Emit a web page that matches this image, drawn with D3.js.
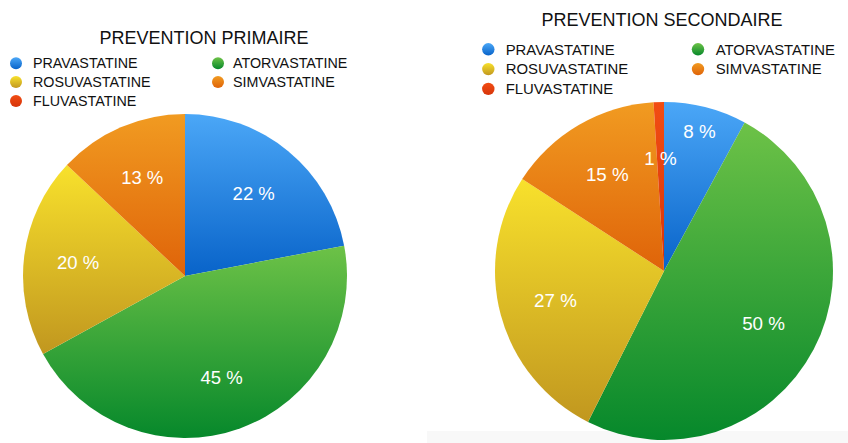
<!DOCTYPE html>
<html>
<head>
<meta charset="utf-8">
<script src="https://cdn.jsdelivr.net/npm/d3@7"></script>
<style>
  html, body { margin: 0; padding: 0; background: #fff; }
  svg { display: block; }
</style>
</head>
<body>
<svg id="chart" width="848" height="443"></svg>
<script>
// ---- data ----
const categories = ["PRAVASTATINE", "ATORVASTATINE", "ROSUVASTATINE", "SIMVASTATINE", "FLUVASTATINE"];
const primaireValues = [22, 45, 20, 13, 0];
const secondaireValues = [8, 50, 27, 15, 1];
const titles = ["PREVENTION PRIMAIRE", "PREVENTION SECONDAIRE"];

// ---- styles ----
const gradStops = [
  ["#4ba7f7", "#0863c9"],
  ["#6dc247", "#06882b"],
  ["#f8e12c", "#c1971f"],
  ["#f19b21", "#df6309"],
  ["#f24d13", "#d6340a"]
];
const font = "'Liberation Sans', Arial, Helvetica, sans-serif";

const svg = d3.select("#chart");
svg.append("rect").attr("x", 427).attr("y", 431).attr("width", 421).attr("height", 12).attr("fill", "#f8f8f8");

const defs = svg.append("defs");
gradStops.forEach((s, i) => {
  const g = defs.append("linearGradient").attr("id", "grad" + i)
    .attr("x1", 0).attr("y1", 0).attr("x2", 0).attr("y2", 1);
  g.append("stop").attr("offset", "0%").attr("stop-color", s[0]);
  g.append("stop").attr("offset", "100%").attr("stop-color", s[1]);
});

const pies = [
  { values: primaireValues, title: titles[0], cx: 185, cy: 276, r: 162,
    titleX: 204, titleY: 44, legend: { dotX: [16, 218], textX: [33, 233], y0: 63.3, dy: 18.8, size: 14.3, dotR: 6 },
    labelFactor: 0.665, labelSize: 18.5, outward: {} },
  { values: secondaireValues, title: titles[1], cx: 664, cy: 271, r: 169,
    titleX: 662, titleY: 26, legend: { dotX: [488.3, 698], textX: [505.7, 715.7], y0: 49.3, dy: 19.8, size: 14.9, dotR: 6.2 },
    labelFactor: 0.665, labelSize: 18.8, outward: { 0: 0.852 } }
];

const pieGen = d3.pie().sort(null).value(d => d);

pies.forEach(p => {
  const g = svg.append("g");
  // title
  g.append("text").attr("x", p.titleX).attr("y", p.titleY)
    .attr("text-anchor", "middle").attr("font-family", font).attr("font-size", 18)
    .attr("fill", "#111").text(p.title);

  // legend
  const L = p.legend;
  categories.forEach((c, i) => {
    const col = i % 2, row = Math.floor(i / 2);
    const y = L.y0 + row * L.dy;
    g.append("circle").attr("cx", L.dotX[col]).attr("cy", y).attr("r", L.dotR)
      .attr("fill", "url(#grad" + i + ")");
    g.append("text").attr("x", L.textX[col]).attr("y", y + L.size * 0.716 / 2)
      .attr("font-family", font).attr("font-size", L.size).attr("fill", "#111").text(c);
  });

  // pie
  const arcs = pieGen(p.values);
  const arc = d3.arc().innerRadius(0).outerRadius(p.r);
  const pg = g.append("g").attr("transform", `translate(${p.cx},${p.cy})`);
  pg.selectAll("path").data(arcs).enter().append("path")
    .filter(d => d.data > 0)
    .attr("d", arc)
    .attr("fill", d => "url(#grad" + d.index + ")");

  pg.selectAll("text.lbl").data(arcs.filter(d => d.data > 0)).enter().append("text")
    .attr("class", "lbl")
    .attr("transform", d => {
      const f = p.outward[d.index] || p.labelFactor;
      const la = d3.arc().innerRadius(p.r * f).outerRadius(p.r * f);
      const [x, y] = la.centroid(d);
      return `translate(${x},${y})`;
    })
    .attr("text-anchor", "middle").attr("dy", "0.36em")
    .attr("font-family", font).attr("font-size", p.labelSize).attr("fill", "#fff")
    .text(d => d.data + " %");
});
</script>
</body>
</html>
